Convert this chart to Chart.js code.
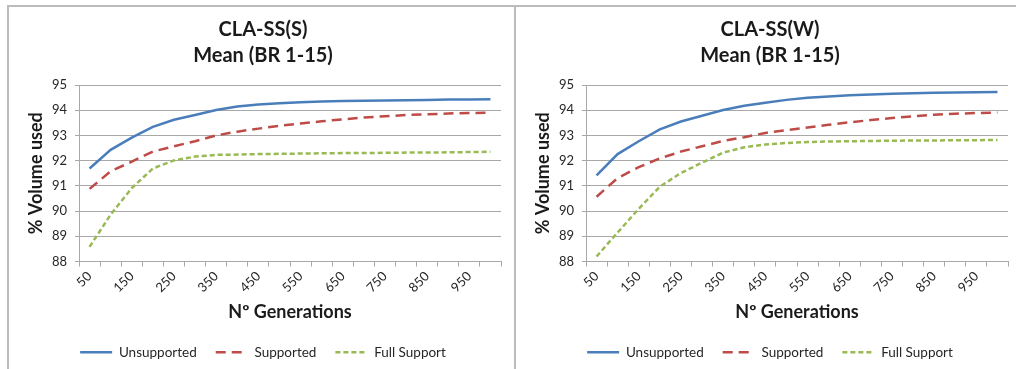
<!DOCTYPE html>
<html>
<head>
<meta charset="utf-8">
<script src="https://cdn.jsdelivr.net/npm/chart.js"></script>
<style>
  body { margin: 0; background: #fff; overflow: hidden; width: 1016px; height: 369px; position: relative; }
  .line { position: absolute; background: #bcbcbc; }
  canvas { position: absolute; top: 7px; }
</style>
</head>
<body>
<div class="line" style="left:7px;top:5px;width:1009px;height:2px"></div>
<div class="line" style="left:7px;top:5px;width:2px;height:364px"></div>
<div class="line" style="left:514px;top:5px;width:2px;height:364px"></div>
<canvas id="chartS" width="505" height="362" style="left:9px"></canvas>
<canvas id="chartW" width="505" height="362" style="left:516px"></canvas>
<script>
var generations = ['50', '100', '150', '200', '250', '300', '350', '400', '450', '500',
  '550', '600', '650', '700', '750', '800', '850', '900', '950', '1000'];

// CLA-SS(S)
var unsupportedS = [91.69, 92.43, 92.91, 93.34, 93.62, 93.81, 94.01, 94.15, 94.23, 94.28,
  94.32, 94.35, 94.37, 94.38, 94.39, 94.40, 94.41, 94.42, 94.42, 94.43];
var supportedS = [90.88, 91.58, 91.96, 92.36, 92.57, 92.77, 93.00, 93.15, 93.27, 93.38,
  93.47, 93.56, 93.64, 93.71, 93.76, 93.81, 93.84, 93.87, 93.89, 93.90];
var fullSupportS = [88.58, 89.86, 90.91, 91.69, 92.01, 92.16, 92.23, 92.24, 92.26, 92.27,
  92.28, 92.29, 92.30, 92.30, 92.31, 92.32, 92.32, 92.33, 92.34, 92.35];

// CLA-SS(W)
var unsupportedW = [91.42, 92.26, 92.77, 93.24, 93.55, 93.78, 94.01, 94.18, 94.30, 94.41,
  94.49, 94.54, 94.59, 94.62, 94.65, 94.67, 94.69, 94.70, 94.71, 94.72];
var supportedW = [90.57, 91.31, 91.74, 92.09, 92.36, 92.57, 92.78, 92.93, 93.10, 93.21,
  93.31, 93.42, 93.52, 93.61, 93.69, 93.76, 93.82, 93.86, 93.89, 93.91];
var fullSupportW = [88.20, 89.15, 90.09, 90.97, 91.51, 91.92, 92.32, 92.53, 92.64, 92.70,
  92.74, 92.76, 92.77, 92.78, 92.79, 92.80, 92.80, 92.81, 92.81, 92.82];

var yTicks = [88, 89, 90, 91, 92, 93, 94, 95];

var FONT = 'Lato, "Open Sans", sans-serif';
Chart.defaults.font.family = FONT;
Chart.defaults.color = '#262626';

function makeChart(id, title, unsup, supp, full) {
  var ctx = document.getElementById(id).getContext('2d');
  return new Chart(ctx, {
    type: 'line',
    data: {
      labels: generations,
      datasets: [{
        label: 'Unsupported',
        data: unsup,
        borderColor: '#4a7ebb',
        borderWidth: 2.5,
        borderDash: []
      }, {
        label: 'Supported',
        data: supp,
        borderColor: '#be4b48',
        borderWidth: 2.5,
        borderDash: [10, 6]
      }, {
        label: 'Full Support',
        data: full,
        borderColor: '#98b954',
        borderWidth: 2.5,
        borderDash: [5, 3]
      }]
    },
    options: {
      responsive: false,
      animation: false,
      elements: { point: { radius: 0 }, line: { tension: 0 } },
      layout: { padding: { left: 16, right: 13, top: 0, bottom: 0 } },
      plugins: {
        tooltip: { enabled: false },
        title: {
          display: true,
          text: title,
          color: '#1a1a1a',
          font: { size: 20, weight: 'bold', lineHeight: 1.3 },
          padding: { top: 10, bottom: 16 }
        },
        legend: {
          position: 'bottom',
          maxHeight: 46,
          labels: {
            usePointStyle: true,
            pointStyleWidth: 32,
            boxHeight: 13,
            padding: 19,
            color: '#262626',
            font: { size: 13.5 },
            generateLabels: function (chart) {
              return chart.data.datasets.map(function (ds, i) {
                return {
                  text: ds.label,
                  datasetIndex: i,
                  strokeStyle: ds.borderColor,
                  fillStyle: ds.borderColor,
                  lineWidth: ds.borderWidth,
                  lineDash: ds.borderDash,
                  pointStyle: 'line',
                  hidden: false,
                  fontColor: '#262626'
                };
              });
            }
          }
        }
      },
      scales: {
        x: {
          offset: true,
          afterFit: function (scale) { scale.height = 65; },
          grid: { display: true, offset: true, drawOnChartArea: false, tickLength: 5, color: '#a8a8a8' },
          border: { color: '#a8a8a8' },
          ticks: {
            autoSkip: false,
            minRotation: 45,
            maxRotation: 45,
            padding: 2,
            font: { size: 13 },
            color: '#262626',
            callback: function (val, idx) { return idx % 2 === 0 ? generations[idx] : ''; }
          },
          title: {
            display: true,
            text: 'Nº Generations',
            color: '#1a1a1a',
            font: { size: 18, weight: 'bold' },
            padding: { top: 0, bottom: 4 }
          }
        },
        y: {
          min: yTicks[0],
          max: yTicks[yTicks.length - 1],
          afterFit: function (scale) { scale.width = 54; },
          afterBuildTicks: function (scale) {
            scale.ticks = yTicks.map(function (v) { return { value: v }; });
          },
          grid: { color: '#a8a8a8', tickLength: 4 },
          border: { color: '#a8a8a8' },
          ticks: { padding: 8, font: { size: 13 }, color: '#262626' },
          title: {
            display: true,
            text: '% Volume used',
            color: '#1a1a1a',
            font: { size: 18, weight: 'bold' },
            padding: { top: 0, bottom: 0 }
          }
        }
      }
    }
  });
}

makeChart('chartS', ['CLA-SS(S)', 'Mean (BR 1-15)'], unsupportedS, supportedS, fullSupportS);
makeChart('chartW', ['CLA-SS(W)', 'Mean (BR 1-15)'], unsupportedW, supportedW, fullSupportW);
</script>
</body>
</html>
